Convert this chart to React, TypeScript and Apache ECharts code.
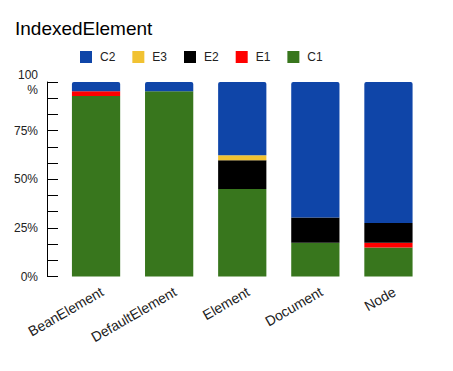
import React, { useEffect, useRef } from "react";
import * as echarts from "echarts";

const categories = ["BeanElement", "DefaultElement", "Element", "Document", "Node"];
const c1Values = [92.8, 95.2, 45.0, 17.3, 14.9];
const e1Values = [2.4, 0, 0, 0, 2.4];
const e2Values = [0, 0, 14.8, 13.0, 10.2];
const e3Values = [0, 0, 2.6, 0, 0];
const c2Values = [4.8, 4.8, 37.6, 69.7, 72.5];
const yTicks = [0, 25, 50, 75, 100];

const FONT = "Liberation Sans, Arial, sans-serif";

export default function App() {
  const ref = useRef<HTMLDivElement>(null);
  useEffect(() => {
    const chart = echarts.init(ref.current!, null, { renderer: "svg" });
    const mk = (name: string, data: number[], color: string, radius?: number[]) => ({
      name,
      type: "bar",
      stack: "all",
      data,
      barCategoryGap: "34%",
      itemStyle: { color, borderRadius: radius || 0 },
    });
    chart.setOption({
      animation: false,
      backgroundColor: "#fff",
      title: {
        text: "IndexedElement",
        left: 10,
        top: 14,
        textStyle: { fontFamily: FONT, fontSize: 19, fontWeight: "normal", color: "#000" },
      },
      legend: {
        left: 75,
        top: 46,
        itemWidth: 12,
        itemHeight: 12,
        itemGap: 17,
        icon: "rect",
        data: ["C2", "E3", "E2", "E1", "C1"],
        textStyle: { fontFamily: FONT, fontSize: 12, color: "#222", padding: [0, 0, 0, 3] },
      },
      grid: { left: 59.5, right: 28, top: 82, bottom: 94.5, containLabel: false },
      xAxis: {
        type: "category",
        data: categories,
        axisLine: { show: false },
        axisTick: { show: false },
        axisLabel: {
          rotate: 30,
          margin: 3.6,
          verticalAlign: "top",
          lineHeight: 24,
          fontFamily: FONT,
          fontSize: 14,
          color: "#222",
          interval: 0,
        },
      },
      yAxis: {
        type: "value",
        min: yTicks[0],
        max: yTicks[yTicks.length - 1],
        interval: 25,
        offset: 12.5,
        axisLine: { show: true, lineStyle: { color: "#000", width: 1 } },
        axisTick: { show: true, inside: true, length: 11, lineStyle: { color: "#000" } },
        minorTick: { show: true, splitNumber: 3, length: 11, lineStyle: { color: "#000" } },
        splitLine: { show: false },
        axisLabel: {
          margin: 9,
          fontFamily: FONT,
          fontSize: 12,
          color: "#222",
          lineHeight: 15,
          formatter: (v: number) => (v === 100 ? "100\n%" : v + "%"),
        },
      },
      series: [
        mk("C1", c1Values, "#38761d"),
        mk("E1", e1Values, "#ff0000"),
        mk("E2", e2Values, "#000000"),
        mk("E3", e3Values, "#f1c232"),
        mk("C2", c2Values, "#0f45a8", [2, 2, 0, 0]),
      ],
    });
    return () => chart.dispose();
  }, []);
  return (
    <div
      ref={ref}
      style={{ position: "fixed", left: 0, top: 0, width: 453, height: 371 }}
    />
  );
}
